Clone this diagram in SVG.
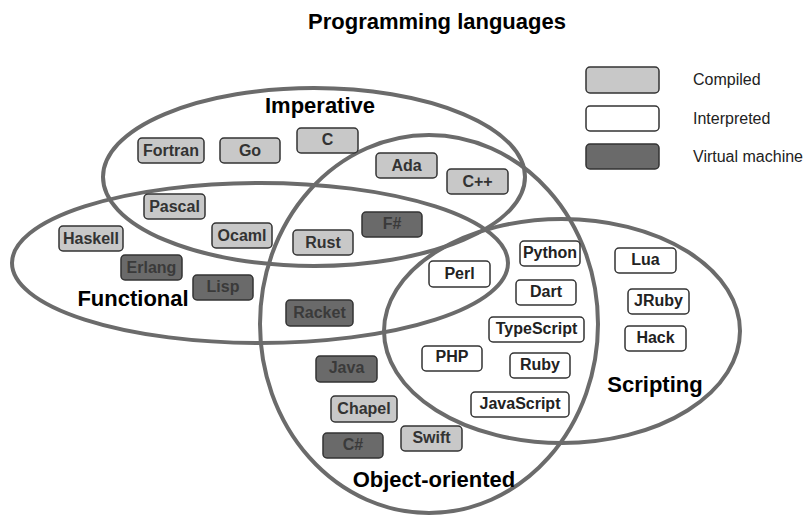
<svg xmlns="http://www.w3.org/2000/svg" width="806" height="517" viewBox="0 0 806 517">
<style>
text{font-family:"Liberation Sans",Arial,sans-serif}
.t{font-size:22px;font-weight:bold;fill:#000;text-anchor:middle}
.cat{font-size:22px;font-weight:bold;fill:#000;text-anchor:middle}
.leg{font-size:16px;fill:#222}
.ell{fill:none;stroke:#6b6b6b;stroke-width:4}
.box rect{stroke:#333;stroke-width:1.5}
.box text{font-size:16px;font-weight:bold;text-anchor:middle}
.c rect{fill:#c8c8c8}.c text{fill:#333}
.i rect{fill:#fff}.i text{fill:#222}
.v rect{fill:#6a6a6a}.v text{fill:#3a3a3a}
</style>
<rect width="806" height="517" fill="#fff"/>
<text class="t" x="437" y="29">Programming languages</text>
<g id="legend">
<g class="box c"><rect x="586" y="67" width="73" height="26" rx="4"/></g>
<g class="box i"><rect x="586" y="106" width="73" height="25" rx="4"/></g>
<g class="box v"><rect x="586" y="144" width="73" height="25" rx="4"/></g>
<text class="leg" x="693" y="85">Compiled</text>
<text class="leg" x="693" y="124">Interpreted</text>
<text class="leg" x="693" y="162">Virtual machine</text>
</g>
<g id="sets">
<ellipse id="imperative" class="ell" cx="314" cy="177" rx="211" ry="89"/>
<ellipse id="functional" class="ell" cx="260" cy="263" rx="248" ry="80"/>
<ellipse id="object-oriented" class="ell" cx="429" cy="324" rx="169" ry="189"/>
<ellipse id="scripting" class="ell" cx="562" cy="331" rx="178" ry="112"/>
<text class="cat" x="320" y="113">Imperative</text>
<text class="cat" x="133" y="306">Functional</text>
<text class="cat" x="434" y="487">Object-oriented</text>
<text class="cat" x="655" y="392">Scripting</text>
</g>
<g id="fortran" class="box c"><rect x="138" y="138" width="66" height="25" rx="4"/><text x="171" y="156">Fortran</text></g>
<g id="go" class="box c"><rect x="220" y="138" width="60" height="25" rx="4"/><text x="250" y="156">Go</text></g>
<g id="c" class="box c"><rect x="297" y="128" width="61" height="25" rx="4"/><text x="327.5" y="145">C</text></g>
<g id="ada" class="box c"><rect x="376" y="153" width="61" height="25" rx="4"/><text x="406.5" y="171">Ada</text></g>
<g id="cpp" class="box c"><rect x="447" y="169" width="61" height="25" rx="4"/><text x="477.5" y="187">C++</text></g>
<g id="fsharp" class="box v"><rect x="362" y="212" width="60" height="25" rx="4"/><text x="392" y="229">F#</text></g>
<g id="rust" class="box c"><rect x="293" y="230" width="60" height="25" rx="4"/><text x="323" y="248">Rust</text></g>
<g id="pascal" class="box c"><rect x="144" y="194" width="61" height="25" rx="4"/><text x="174.5" y="212">Pascal</text></g>
<g id="haskell" class="box c"><rect x="59" y="226" width="64" height="25" rx="4"/><text x="91" y="244">Haskell</text></g>
<g id="ocaml" class="box c"><rect x="212" y="223" width="60" height="25" rx="4"/><text x="242" y="241">Ocaml</text></g>
<g id="erlang" class="box v"><rect x="121" y="255" width="61" height="25" rx="4"/><text x="151.5" y="273">Erlang</text></g>
<g id="lisp" class="box v"><rect x="193" y="275" width="60" height="25" rx="4"/><text x="223" y="292">Lisp</text></g>
<g id="racket" class="box v"><rect x="286" y="300" width="67" height="26" rx="4"/><text x="319.5" y="318">Racket</text></g>
<g id="perl" class="box i"><rect x="429" y="261" width="61" height="26" rx="4"/><text x="459.5" y="279">Perl</text></g>
<g id="python" class="box i"><rect x="520" y="241" width="60" height="25" rx="4"/><text x="550" y="258">Python</text></g>
<g id="dart" class="box i"><rect x="516" y="280" width="60" height="25" rx="4"/><text x="546" y="297">Dart</text></g>
<g id="typescript" class="box i"><rect x="489" y="317" width="95" height="25" rx="4"/><text x="536.5" y="334">TypeScript</text></g>
<g id="php" class="box i"><rect x="422" y="346" width="60" height="25" rx="4"/><text x="452" y="362">PHP</text></g>
<g id="ruby" class="box i"><rect x="510" y="353" width="60" height="25" rx="4"/><text x="540" y="370">Ruby</text></g>
<g id="javascript" class="box i"><rect x="471" y="392" width="98" height="25" rx="4"/><text x="520" y="409">JavaScript</text></g>
<g id="java" class="box v"><rect x="316" y="356" width="61" height="26" rx="4"/><text x="346.5" y="373">Java</text></g>
<g id="chapel" class="box c"><rect x="331" y="396" width="66" height="26" rx="4"/><text x="364" y="414">Chapel</text></g>
<g id="swift" class="box c"><rect x="401" y="426" width="61" height="25" rx="4"/><text x="431.5" y="443">Swift</text></g>
<g id="csharp" class="box v"><rect x="323" y="433" width="60" height="25" rx="4"/><text x="353" y="450">C#</text></g>
<g id="lua" class="box i"><rect x="615" y="248" width="61" height="25" rx="4"/><text x="645.5" y="265">Lua</text></g>
<g id="jruby" class="box i"><rect x="628" y="289" width="61" height="25" rx="4"/><text x="658.5" y="306">JRuby</text></g>
<g id="hack" class="box i"><rect x="625" y="326" width="61" height="25" rx="4"/><text x="655.5" y="343">Hack</text></g>
</svg>
